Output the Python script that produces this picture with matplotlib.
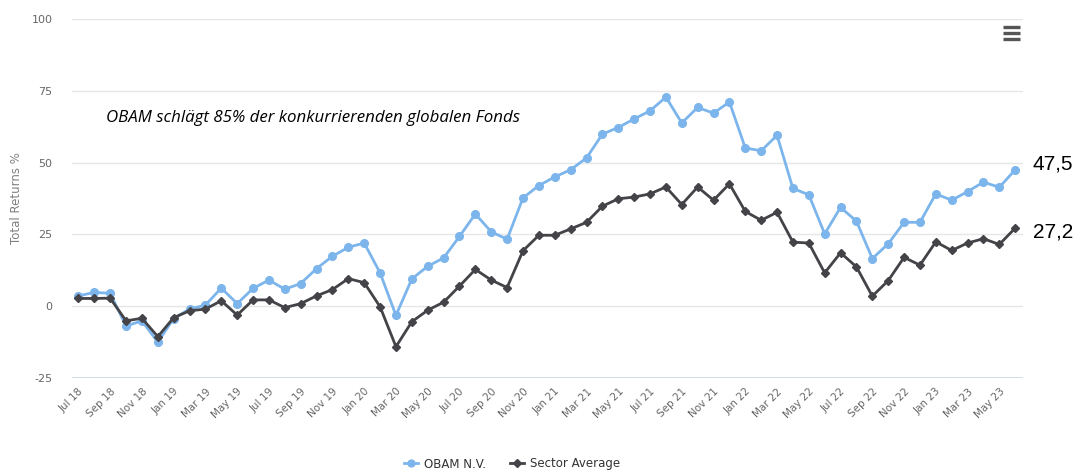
import matplotlib.pyplot as plt
import matplotlib.transforms as mtransforms
from matplotlib.lines import Line2D

plt.rcParams['axes.unicode_minus'] = False

# monthly points, Jul 2018 .. Jun 2023
months = ['Jul', 'Aug', 'Sep', 'Oct', 'Nov', 'Dec', 'Jan', 'Feb', 'Mar', 'Apr', 'May', 'Jun']
years = ['18'] * 6 + ['19'] * 12 + ['20'] * 12 + ['21'] * 12 + ['22'] * 12 + ['23'] * 6
labels = [f'{months[i % 12]} {years[i]}' for i in range(60)]

obam = [3.6, 4.8, 4.5, -6.9, -5.1, -12.5, -4.3, -1.0, 0.4, 6.3, 0.9, 6.2,
        9.1, 5.9, 7.9, 13.1, 17.4, 20.5, 22.0, 11.6, -3.2, 9.5, 13.9, 16.8,
        24.3, 32.1, 25.9, 23.3, 37.7, 42.0, 45.0, 47.5, 51.6, 59.9, 62.2, 65.2,
        68.0, 72.8, 63.8, 69.2, 67.2, 71.1, 55.1, 54.1, 59.5, 41.0, 38.8, 25.2,
        34.4, 29.6, 16.6, 21.7, 29.2, 29.2, 39.1, 36.9, 39.9, 43.2, 41.4, 47.5]

sector = [2.7, 2.7, 2.8, -5.1, -4.2, -10.6, -4.0, -1.6, -1.0, 1.9, -3.1, 2.2,
          2.2, -0.5, 0.9, 3.6, 5.8, 9.6, 8.2, -0.2, -14.1, -5.4, -1.4, 1.4,
          7.0, 12.8, 9.1, 6.5, 19.3, 24.7, 24.7, 26.9, 29.2, 34.8, 37.4, 38.0,
          39.1, 41.5, 35.4, 41.5, 36.9, 42.6, 33.0, 29.9, 32.7, 22.3, 22.0, 11.6,
          18.6, 13.7, 3.5, 8.9, 17.0, 14.3, 22.4, 19.4, 22.0, 23.5, 21.5, 27.2]

end_labels = ['47,5', '27,2']
note = 'OBAM schlägt 85% der konkurrierenden globalen Fonds'

blue = '#7cb5ec'
dark = '#434348'
grey = '#666666'

fig = plt.figure(figsize=(10.85, 4.74), dpi=100)
ax = fig.add_axes([0.0664, 0.2025, 0.8766, 0.7575])

x = list(range(len(labels)))
ax.plot(x, obam, color=blue, lw=2, marker='o', ms=5.5, label='OBAM N.V.', zorder=3)
ax.plot(x, sector, color=dark, lw=2, marker='D', ms=4.5, label='Sector Average', zorder=4)

ax.set_xlim(-0.4, 59.5)
ax.set_ylim(-25, 100)
ax.set_yticks([-25, 0, 25, 50, 75, 100])
ax.grid(axis='y', color='#e6e6e6', lw=1)
ax.axhline(-25, color='#ccd6eb', lw=1.2, zorder=2)
ax.set_axisbelow(True)
for s in ax.spines.values():
    s.set_visible(False)

ax.set_xticks(x[::2])
ax.set_xticklabels(labels[::2], rotation=45, ha='right', rotation_mode='anchor',
                   fontsize=7.5, color=grey)
ax.tick_params(axis='x', length=0, pad=6)
ax.tick_params(axis='y', length=0, labelsize=8, labelcolor=grey, pad=14)
ax.set_ylabel('Total Returns %', color='#808080', fontsize=8.5, labelpad=6)

ax.text(1.75, 65.6, note, style='italic', fontsize=12.2, va='center', ha='left',
        family=['Open Sans', 'DejaVu Sans'])

trans = mtransforms.blended_transform_factory(ax.transAxes, ax.transData)
ax.text(1.01, 49.5, end_labels[0], transform=trans, fontsize=15, va='center', ha='left',
        family=['Liberation Sans', 'DejaVu Sans'])
ax.text(1.01, 26.0, end_labels[1], transform=trans, fontsize=15, va='center', ha='left',
        family=['Liberation Sans', 'DejaVu Sans'])

# hamburger menu icon
for yy in (27, 33, 39):
    fig.add_artist(Line2D([1003 / 1085, 1020 / 1085], [1 - yy / 474] * 2,
                          color='#555555', lw=2.4, solid_capstyle='butt'))

leg = fig.legend(loc='center', bbox_to_anchor=(512 / 1085, 1 - 464 / 474), ncol=2,
                 frameon=False, fontsize=8.5, handlelength=1.2, columnspacing=2.0,
                 handletextpad=0.5, markerscale=0.9)
for t in leg.get_texts():
    t.set_color('#333333')

fig.savefig('out.png', dpi=100)
